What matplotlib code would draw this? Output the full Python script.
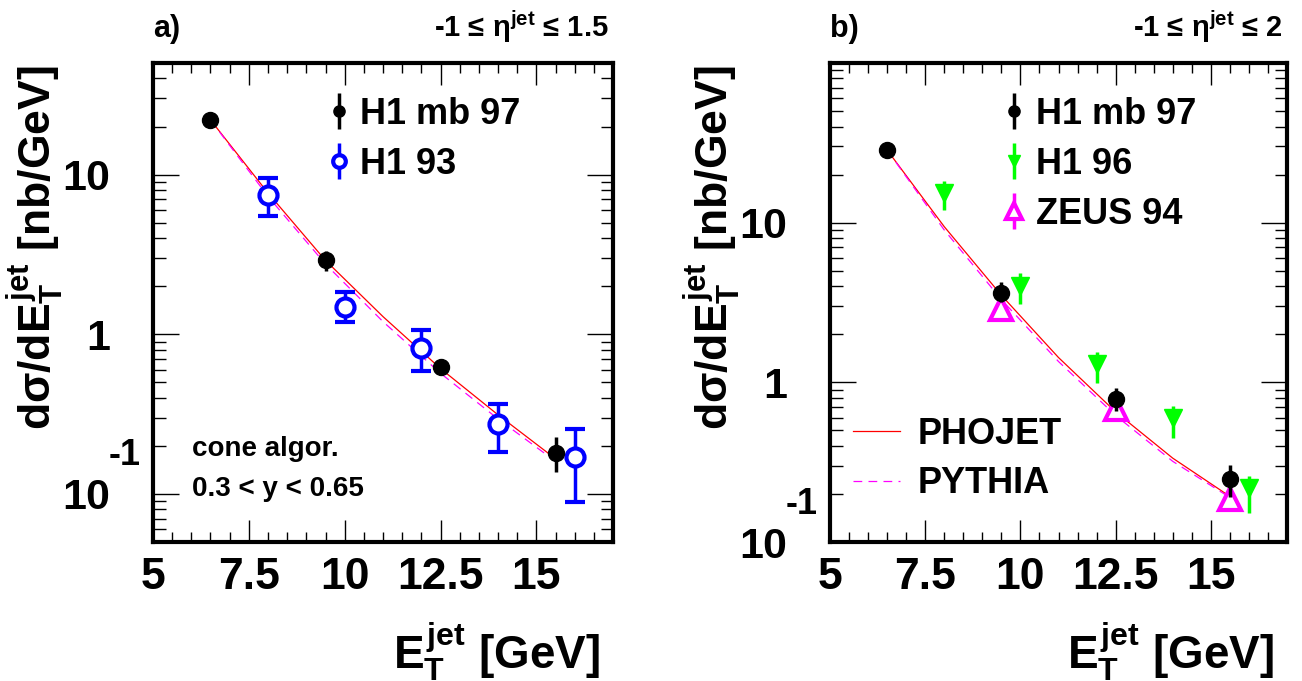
import matplotlib
matplotlib.use("Agg")
import matplotlib.pyplot as plt
from matplotlib.ticker import FixedLocator, LogLocator, MultipleLocator, NullFormatter, FixedFormatter

plt.rcParams['font.family'] = ['Liberation Sans', 'DejaVu Sans']
plt.rcParams['font.weight'] = 'bold'
plt.rcParams['axes.labelweight'] = 'bold'
plt.rcParams['mathtext.fontset'] = 'custom'
plt.rcParams['mathtext.rm'] = 'Liberation Sans:bold'
plt.rcParams['mathtext.it'] = 'Liberation Sans:bold'
plt.rcParams['mathtext.bf'] = 'Liberation Sans:bold'

# ---- panel a) data ----
a_mb97_x = [6.5, 9.5, 12.5, 15.5]
a_mb97_y = [22.0, 2.9, 0.62, 0.18]
a_mb97_lo = [21.0, 2.5, 0.58, 0.137]
a_mb97_hi = [23.0, 3.3, 0.66, 0.226]

a_h93_x = [8, 10, 12, 14, 16]
a_h93_y = [7.5, 1.49, 0.82, 0.276, 0.17]
a_h93_lo = [5.5, 1.2, 0.59, 0.182, 0.089]
a_h93_hi = [9.5, 1.84, 1.06, 0.367, 0.255]

a_mc_x = [6.5, 8, 9.5, 11, 12.5, 14, 15.5]
a_phojet = [22.0, 7.67, 2.9, 1.29, 0.61, 0.313, 0.166]
a_pythia = [22.0, 7.3, 2.75, 1.2, 0.57, 0.295, 0.16]

# ---- panel b) data ----
b_mb97_x = [6.5, 9.5, 12.5, 15.5]
b_mb97_y = [28.5, 3.65, 0.787, 0.249]
b_mb97_lo = [27.0, 3.2, 0.665, 0.191]
b_mb97_hi = [30.0, 4.25, 0.92, 0.304]

b_h96_x = [8, 10, 12, 14, 16]
b_h96_y = [15.4, 4.0, 1.3, 0.60, 0.218]
b_h96_lo = [12.0, 3.08, 0.99, 0.447, 0.152]
b_h96_hi = [18.2, 4.87, 1.54, 0.71, 0.259]

b_zeus_x = [9.5, 12.5, 15.5]
b_zeus_y = [2.87, 0.68, 0.187]
b_zeus_lo = [2.6, 0.62, 0.17]
b_zeus_hi = [3.15, 0.75, 0.205]

b_mc_x = [6.5, 8, 9.5, 11, 12.5, 14, 15.5]
b_phojet = [28.5, 9.44, 3.51, 1.43, 0.653, 0.335, 0.193]
b_pythia = [28.5, 9.0, 3.3, 1.35, 0.62, 0.32, 0.19]


def yerr(y, lo, hi):
    return [[v - l for v, l in zip(y, lo)], [h - v for v, h in zip(y, hi)]]


def style_axes(ax, ylim, title_l, title_r):
    ax.set_yscale('log')
    ax.set_xlim(5, 17)
    ax.set_ylim(*ylim)
    for s in ax.spines.values():
        s.set_linewidth(3)
    ax.xaxis.set_major_locator(FixedLocator([5, 7.5, 10, 12.5, 15]))
    ax.xaxis.set_major_formatter(FixedFormatter(['5', '7.5', '10', '12.5', '15']))
    ax.xaxis.set_minor_locator(MultipleLocator(0.5))
    ax.yaxis.set_major_locator(FixedLocator([0.1, 1, 10]))
    ax.yaxis.set_major_formatter(FixedFormatter(['10', '1', '10']))
    ax.yaxis.set_minor_locator(LogLocator(base=10, subs=range(2, 10)))
    ax.yaxis.set_minor_formatter(NullFormatter())
    ax.tick_params(which='both', direction='in', top=True, right=True, width=1)
    ax.tick_params(axis='x', which='major', length=16, labelsize=32, pad=11)
    ax.tick_params(axis='x', which='minor', length=7)
    ax.tick_params(axis='y', which='major', length=19, labelsize=31, pad=31)
    ax.tick_params(axis='y', which='minor', length=9)
    # exponent of the 10^-1 label
    ax.annotate('-1', xy=(0, 0.1), xycoords=('axes fraction', 'data'),
                xytext=(-28, 38), textcoords='offset pixels',
                ha='center', va='center', fontsize=26, fontweight='bold',
                annotation_clip=False)
    ax.set_xlabel(r'$E_T^{jet}$ [GeV]', fontsize=33, loc='right')
    ax.xaxis.set_label_coords(0.972, -0.163)
    ax.set_ylabel(r'dσ/d$E_T^{jet}$ [nb/GeV]', fontsize=32, loc='top')
    ax.yaxis.set_label_coords(-0.19, 0.995)
    ax.text(0.0, 1.055, title_l, transform=ax.transAxes, fontsize=22,
            fontweight='bold', ha='left', va='baseline')
    ax.text(0.99, 1.055, title_r, transform=ax.transAxes, fontsize=21,
            fontweight='bold', ha='right', va='baseline')


fig = plt.figure(figsize=(13.02, 6.81), dpi=100)
ax1 = fig.add_axes([153 / 1302, 1 - 542 / 681, 460 / 1302, 479 / 681])
ax2 = fig.add_axes([830 / 1302, 1 - 542 / 681, 457 / 1302, 479 / 681])

# ---- panel a ----
ax1.plot(a_mc_x, a_phojet, color='red', lw=0.9, zorder=2)
ax1.plot(a_mc_x, a_pythia, color='magenta', lw=0.9, ls=(0, (7, 5)), zorder=2)
h1 = ax1.errorbar(a_mb97_x, a_mb97_y, yerr=yerr(a_mb97_y, a_mb97_lo, a_mb97_hi),
                  fmt='o', color='black', ms=11.5, elinewidth=2.5, capsize=0, zorder=4)
ax1.errorbar(a_h93_x, a_h93_y, yerr=yerr(a_h93_y, a_h93_lo, a_h93_hi),
             fmt='o', color='blue', mfc='white', mec='blue', ms=13, mew=3,
             elinewidth=2.5, capsize=7, capthick=2.5, zorder=3)
# legend entry drawn without caps, as in the original
h2 = ax1.errorbar([], [], yerr=[], fmt='o', color='blue', mfc='white', mec='blue',
                  ms=13, mew=3, elinewidth=2.5, capsize=0)
ax1.legend([h1, h2], ['H1 mb 97', 'H1 93'], loc='upper left',
           bbox_to_anchor=(0.38, 0.93), frameon=False, fontsize=26,
           handlelength=0.6, handletextpad=0.3, labelspacing=0.42,
           borderpad=0, borderaxespad=0, markerscale=0.7)
ax1.text(0.085, 0.18, 'cone algor.', transform=ax1.transAxes, fontsize=20,
         fontweight='bold', va='baseline')
ax1.text(0.085, 0.097, '0.3 < y < 0.65', transform=ax1.transAxes, fontsize=20,
         fontweight='bold', va='baseline')
style_axes(ax1, (0.05, 50), 'a)', '-1 ≤ η$^{jet}$ ≤ 1.5')

# ---- panel b ----
l1, = ax2.plot(b_mc_x, b_phojet, color='red', lw=0.9, zorder=2)
l2, = ax2.plot(b_mc_x, b_pythia, color='magenta', lw=0.9, ls=(0, (7, 5)), zorder=2)
g1 = ax2.errorbar(b_mb97_x, b_mb97_y, yerr=yerr(b_mb97_y, b_mb97_lo, b_mb97_hi),
                  fmt='o', color='black', ms=11.5, elinewidth=2.5, capsize=0, zorder=5)
g2 = ax2.errorbar(b_h96_x, b_h96_y, yerr=yerr(b_h96_y, b_h96_lo, b_h96_hi),
                  fmt='v', color='#00ff00', ms=13, elinewidth=2.5, capsize=0, zorder=3)
g3 = ax2.errorbar(b_zeus_x, b_zeus_y, yerr=yerr(b_zeus_y, b_zeus_lo, b_zeus_hi),
                  fmt='^', color='magenta', mfc='white', mec='magenta', ms=16, mew=3,
                  elinewidth=2.5, capsize=0, zorder=4)
leg1 = ax2.legend([g1, g2, g3], ['H1 mb 97', 'H1 96', 'ZEUS 94'], loc='upper left',
                  bbox_to_anchor=(0.38, 0.93), frameon=False, fontsize=26,
                  handlelength=0.6, handletextpad=0.3, labelspacing=0.42,
                  borderpad=0, borderaxespad=0, markerscale=0.7)
ax2.add_artist(leg1)
ax2.legend([l1, l2], ['PHOJET', 'PYTHIA'], loc='lower left',
           bbox_to_anchor=(0.05, 0.085), frameon=False, fontsize=26,
           handlelength=1.3, handletextpad=0.5, labelspacing=0.4,
           borderpad=0, borderaxespad=0)
style_axes(ax2, (0.1, 100), 'b)', '-1 ≤ η$^{jet}$ ≤ 2')

fig.savefig('out.png', dpi=100)
